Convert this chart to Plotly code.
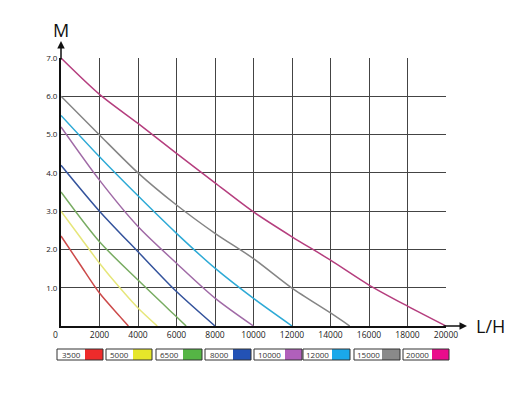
import plotly.graph_objects as go

# ---- data ----
series_names = ["3500", "5000", "6500", "8000", "10000", "12000", "15000", "20000"]
line_colors = ["#cc4a4a", "#e6e67a", "#78ac62", "#34539c", "#a06aa6", "#2eaad6", "#858585", "#b53e7e"]
legend_colors = ["#ee2b2b", "#e6e62a", "#55b545", "#2352b5", "#b060bb", "#1aa8ea", "#8a8a8a", "#ea0c8c"]

flow_3500 = [0, 1000, 2000, 3000, 3500]
head_3500 = [2.35, 1.6, 0.86, 0.28, 0]
flow_5000 = [0, 1000, 2000, 3000, 4000, 5000]
head_5000 = [3.0, 2.32, 1.64, 1.03, 0.47, 0]
flow_6500 = [0, 2000, 4000, 6000, 6500]
head_6500 = [3.5, 2.2, 1.2, 0.24, 0]
flow_8000 = [0, 2000, 4000, 6000, 8000]
head_8000 = [4.2, 3.0, 1.94, 0.9, 0]
flow_10000 = [0, 2000, 4000, 6000, 8000, 10000]
head_10000 = [5.2, 3.81, 2.6, 1.64, 0.73, 0]
flow_12000 = [0, 2000, 4000, 6000, 8000, 10000, 12000]
head_12000 = [5.5, 4.42, 3.4, 2.42, 1.51, 0.72, 0]
flow_15000 = [0, 2000, 4000, 6000, 8000, 10000, 12000, 14000, 15000]
head_15000 = [6.0, 4.99, 4.0, 3.16, 2.42, 1.76, 0.99, 0.34, 0]
flow_20000 = [0, 2000, 4000, 6000, 8000, 10000, 12000, 14000, 16000, 18000, 20000]
head_20000 = [7.0, 6.05, 5.29, 4.51, 3.74, 2.98, 2.33, 1.72, 1.07, 0.52, 0]

x_ticks = [2000, 4000, 6000, 8000, 10000, 12000, 14000, 16000, 18000, 20000]
y_ticks = [1, 2, 3, 4, 5, 6, 7]
y_tick_labels = ["1.0", "2.0", "3.0", "4.0", "5.0", "6.0", "7.0"]

flows = [flow_3500, flow_5000, flow_6500, flow_8000, flow_10000, flow_12000, flow_15000, flow_20000]
heads = [head_3500, head_5000, head_6500, head_8000, head_10000, head_12000, head_15000, head_20000]

# ---- figure ----
W, H = 512, 409
L, R, T, B = 61, 66, 58, 83
pw, ph = W - L - R, H - T - B

fig = go.Figure()
for name, fx, hy, c in zip(series_names, flows, heads, line_colors):
    fig.add_trace(go.Scatter(x=fx, y=hy, mode="lines", name=name,
                             line=dict(color=c, width=1.5, shape="spline", smoothing=0.8),
                             showlegend=False))

font = "Open Sans, DejaVu Sans, sans-serif"
fig.update_layout(
    width=W, height=H, margin=dict(l=L, r=R, t=T, b=B),
    paper_bgcolor="white", plot_bgcolor="white",
    font=dict(family=font, size=8, color="#222"),
    xaxis=dict(range=[0, 20000], tickvals=x_ticks, ticktext=[str(v) for v in x_ticks],
               showgrid=True, gridcolor="#444", gridwidth=1.3, zeroline=False,
               showline=True, linecolor="#111", linewidth=2, ticks="", ticklen=0,
               tickfont=dict(size=8.5, color="#222"), fixedrange=True),
    yaxis=dict(range=[0, 7], tickvals=y_ticks, ticktext=y_tick_labels,
               showgrid=True, gridcolor="#444", gridwidth=1.3, zeroline=False,
               showline=True, linecolor="#111", linewidth=2, ticks="", ticklen=0,
               tickfont=dict(size=8, color="#222"), fixedrange=True),
)

def px2x(px):
    return (px - L) / pw

def py2y(py):
    return (T + ph - py) / ph

anns = []
# axis arrows
anns.append(dict(xref="paper", yref="paper", x=0, y=py2y(41), ax=0, ay=20, axref="pixel", ayref="pixel",
                 showarrow=True, arrowhead=2, arrowsize=1, arrowwidth=1.5, arrowcolor="#111", text=""))
anns.append(dict(xref="paper", yref="paper", x=px2x(467), y=0, ax=-25, ay=0, axref="pixel", ayref="pixel",
                 showarrow=True, arrowhead=2, arrowsize=1, arrowwidth=1.5, arrowcolor="#111", text=""))
anns.append(dict(xref="paper", yref="paper", x=px2x(61), y=py2y(30), text="M", showarrow=False,
                 xanchor="center", yanchor="middle",
                 font=dict(size=18, color="#111", family=font)))
anns.append(dict(xref="paper", yref="paper", x=px2x(490), y=py2y(326), text="L/H", showarrow=False,
                 xanchor="center", yanchor="middle",
                 font=dict(size=18, color="#111", family=font)))
anns.append(dict(xref="paper", yref="paper", x=px2x(55), y=py2y(334), text="0", showarrow=False,
                 xanchor="center", yanchor="middle",
                 font=dict(size=8.5, color="#222", family=font)))

shapes = []
# legend box geometry in pixels: (left, swatch start, right)
boxes = [(57, 85, 103), (106, 133, 152), (156, 183, 202), (205, 233, 251),
         (254, 285, 302), (303, 332, 350), (354, 382, 400), (403, 432, 449)]
y0, y1 = 349, 360
for (x0, xm, x1), name, c in zip(boxes, series_names, legend_colors):
    shapes.append(dict(type="rect", xref="paper", yref="paper", x0=px2x(xm), x1=px2x(x1),
                       y0=py2y(y1), y1=py2y(y0), fillcolor=c, line=dict(width=0)))
    shapes.append(dict(type="rect", xref="paper", yref="paper", x0=px2x(x0), x1=px2x(x1),
                       y0=py2y(y1), y1=py2y(y0), fillcolor="rgba(0,0,0,0)",
                       line=dict(color="#333", width=1)))
    anns.append(dict(xref="paper", yref="paper", x=px2x((x0 + xm) / 2), y=py2y((y0 + y1) / 2),
                     xanchor="center", yanchor="middle", text=name, showarrow=False,
                     font=dict(size=8, color="#333", family=font)))

fig.update_layout(annotations=anns, shapes=shapes)
fig.write_html("out.html", config={"displayModeBar": False},
               post_script="document.body.style.margin='0';")
